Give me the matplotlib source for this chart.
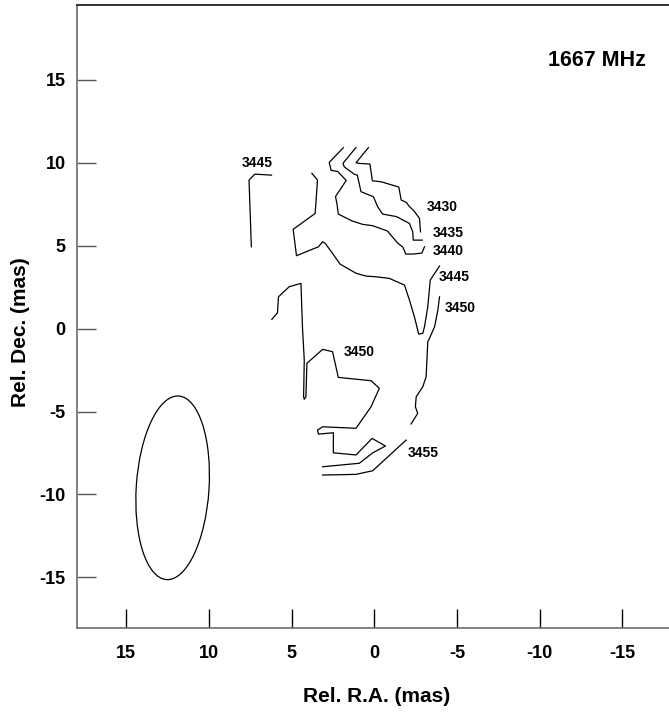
import matplotlib as mpl
mpl.use('agg')
import matplotlib.pyplot as plt
from matplotlib.patches import Ellipse

plt.rcParams['font.family'] = ['Liberation Sans', 'DejaVu Sans']
plt.rcParams['font.weight'] = 'bold'
plt.rcParams['axes.unicode_minus'] = False

# contour traces (Rel. R.A., Rel. Dec.) in mas
c3445a_x = [6.22, 7.23, 7.58, 7.44]
c3445a_y = [9.26, 9.32, 8.96, 4.94]

c3445b_x = [3.78, 3.44, 3.58, 4.91, 4.71, 3.38, 3.13, 2.97, 2.53, 2.08, 1.11, 0.50, -0.10,
            -0.91, -1.82, -2.12, -2.42, -2.68, -2.93, -3.03, -3.23, -3.38, -3.94]
c3445b_y = [9.37, 8.96, 6.95, 5.99, 4.40, 4.94, 5.24, 5.14, 4.54, 3.90, 3.34, 3.17, 3.13,
            3.03, 2.63, 1.73, 0.72, -0.33, -0.28, 0.11, 1.32, 2.93, 3.78]

c3440_x = [1.88, 2.73, 2.62, 2.22, 1.70, 2.35, 2.26, 2.18, 1.33, 0.71, 0.10, -0.79, -1.41,
           -1.72, -1.90, -2.36, -2.88, -3.03]
c3440_y = [10.91, 10.03, 9.55, 9.48, 8.94, 7.97, 7.52, 6.91, 6.49, 6.29, 6.21, 5.89, 5.16,
           4.92, 4.50, 4.50, 4.56, 4.94]

c3435_x = [1.12, 1.90, 1.82, 1.21, 1.03, 0.81, 0.06, -0.20, -0.50, -1.33, -2.12, -2.32, -2.35, -2.89]
c3435_y = [10.92, 9.97, 9.76, 9.31, 9.26, 8.26, 7.96, 7.35, 6.91, 6.76, 6.35, 5.84, 5.34, 5.34]

c3430_x = [0.36, 1.11, 0.95, 0.27, 0.12, -0.41, -1.48, -1.62, -1.94, -2.08, -2.42, -2.73, -2.79]
c3430_y = [10.92, 10.01, 9.97, 9.93, 8.92, 8.86, 8.54, 7.76, 7.61, 7.41, 7.07, 6.65, 5.84]

c3450a_x = [6.20, 5.86, 5.80, 5.15, 4.44, 4.35, 4.24, 4.28, 4.24, 4.14, 4.08, 3.13, 2.53, 2.18,
            0.20, -0.30, 0.20, 1.11, 3.13, 3.44, 3.38, 2.48, 2.48, 1.11, 0.14, -0.67, 0.10, 0.91, 3.13]
c3450a_y = [0.56, 0.96, 1.92, 2.53, 2.73, 0.11, -1.89, -4.11, -4.26, -4.11, -2.09, -1.25, -1.39,
            -2.94, -3.14, -3.60, -4.71, -6.01, -5.92, -6.12, -6.36, -6.28, -7.49, -7.62, -6.62,
            -7.08, -7.49, -8.12, -8.33]

c3450b_x = [-3.94, -3.84, -3.64, -3.33, -3.23, -3.13, -2.93, -2.53, -2.48, -2.62, -2.22]
c3450b_y = [1.92, 1.12, 0.11, -0.59, -0.79, -2.90, -3.50, -4.11, -4.71, -5.11, -5.75]

c3455_x = [-1.92, 0.10, 1.11, 3.13]
c3455_y = [-6.72, -8.57, -8.79, -8.83]

# contour labels
lab_text = ['3445', '3430', '3435', '3440', '3445', '3450', '3450', '3455']
lab_x = [7.09, -4.08, -4.48, -4.48, -4.85, -5.19, 0.91, -2.93]
lab_y = [9.98, 7.32, 5.78, 4.70, 3.13, 1.22, -1.39, -7.49]

# beam
beam_x, beam_y = 12.2, -9.6
beam_w, beam_h, beam_pa = 4.4, 11.1, 3.8

ticks = [15, 10, 5, 0, -5, -10, -15]

fig = plt.figure(figsize=(6.69, 7.13), dpi=100)
ax = fig.add_axes([0.1147, 0.1196, 0.8898, 0.8738])

lines = [(c3445a_x, c3445a_y), (c3445b_x, c3445b_y), (c3440_x, c3440_y), (c3435_x, c3435_y),
         (c3430_x, c3430_y), (c3450a_x, c3450a_y), (c3450b_x, c3450b_y), (c3455_x, c3455_y)]
for xs, ys in lines:
    ax.plot(xs, ys, color='black', lw=0.9)

for t, x, y in zip(lab_text, lab_x, lab_y):
    ax.text(x, y, t, ha='center', va='center', fontsize=10, fontweight='bold')

ax.add_patch(Ellipse((beam_x, beam_y), beam_w, beam_h, angle=beam_pa,
                     fill=False, color='black', lw=0.9))

ax.text(-13.48, 16.17, '1667 MHz', ha='center', va='center', fontsize=15.5, fontweight='bold')

ax.set_xlim(18, -18)
ax.set_ylim(-18.04, 19.54)
ax.set_xticks(ticks)
ax.set_yticks(ticks)
ax.tick_params(axis='x', direction='in', length=13.5, width=1, color='black', pad=12.5, labelsize=13)
ax.tick_params(axis='y', direction='in', length=13.5, width=1, color='#555555', pad=7.9, labelsize=13)
for lab in ax.get_xticklabels() + ax.get_yticklabels():
    lab.set_fontweight('bold')

ax.spines['right'].set_visible(False)
ax.spines['left'].set_color('#777777')
ax.spines['bottom'].set_color('#777777')
ax.spines['top'].set_color('#222222')
for s in ['left', 'bottom', 'top']:
    ax.spines[s].set_linewidth(1.3)

ax.set_xlabel('Rel. R.A. (mas)', fontsize=15, fontweight='bold')
ax.set_ylabel('Rel. Dec. (mas)', fontsize=15, fontweight='bold')
ax.xaxis.set_label_coords(0.504, -0.111)
ax.yaxis.set_label_coords(-0.095, 0.475)
ax.xaxis.label.set_va('center')
ax.yaxis.label.set_va('center')

plt.savefig('out.png', dpi=100)
